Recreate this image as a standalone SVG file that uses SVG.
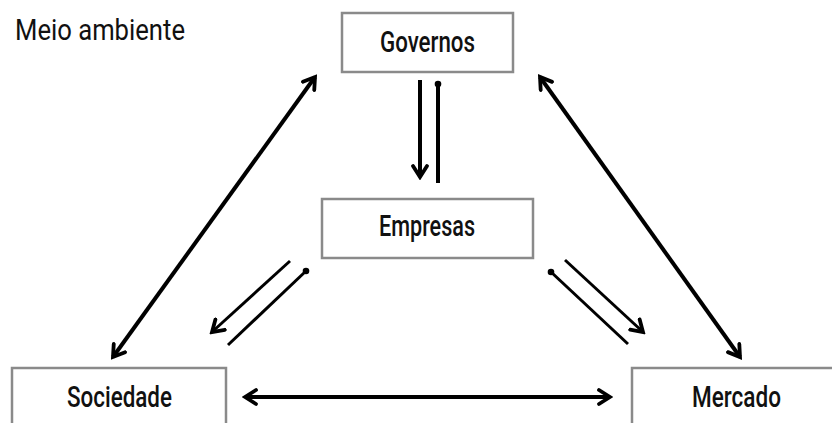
<svg xmlns="http://www.w3.org/2000/svg" width="832" height="423" viewBox="0 0 832 423">
  <style>
    .box { fill: #ffffff; stroke: #8a8a8a; stroke-width: 2.5; }
    .lbl { font-family: Roboto, "Liberation Sans", Arial, sans-serif; font-weight: 500; font-size: 29px; fill: #111111; text-anchor: middle; }
    .title { font-family: Roboto, "Liberation Sans", Arial, sans-serif; font-weight: 400; font-size: 30px; fill: #111111; }
    .thick { stroke: #000000; stroke-width: 4; fill: none; }
    .thin { stroke: #000000; stroke-width: 3; fill: none; }
  </style>
  <defs>
    <marker id="arrow" markerUnits="userSpaceOnUse" viewBox="0 0 16 18" refX="13" refY="9" markerWidth="16" markerHeight="18" orient="auto-start-reverse">
      <path d="M2,2 L13,9 L2,16" fill="none" stroke="#000000" stroke-width="3.8" stroke-linecap="round" stroke-linejoin="miter"/>
    </marker>
    <marker id="dot" markerUnits="userSpaceOnUse" viewBox="0 0 10 10" refX="5" refY="5" markerWidth="10" markerHeight="10">
      <circle cx="5" cy="5" r="3.3" fill="#000000"/>
    </marker>
  </defs>
  <rect width="832" height="423" fill="#ffffff"/>
  <text class="title" x="15" y="40" textLength="170" lengthAdjust="spacingAndGlyphs">Meio ambiente</text>
  <g id="connectors">
    <line class="thick" x1="315" y1="77" x2="113" y2="357" marker-start="url(#arrow)" marker-end="url(#arrow)"/>
    <line class="thick" x1="540" y1="77" x2="740" y2="357" marker-start="url(#arrow)" marker-end="url(#arrow)"/>
    <line class="thick" x1="245" y1="397" x2="610" y2="397" marker-start="url(#arrow)" marker-end="url(#arrow)"/>
    <line class="thick" x1="420" y1="80" x2="420" y2="177" marker-end="url(#arrow)"/>
    <line class="thick" x1="438" y1="183" x2="438" y2="84" marker-end="url(#dot)"/>
    <line class="thin" x1="290" y1="261" x2="212" y2="332" marker-end="url(#arrow)"/>
    <line class="thin" x1="228" y1="345" x2="306" y2="271" marker-end="url(#dot)"/>
    <line class="thin" x1="565" y1="260" x2="643" y2="332" marker-end="url(#arrow)"/>
    <line class="thin" x1="628" y1="344" x2="551" y2="272" marker-end="url(#dot)"/>
  </g>
  <g id="node-governos">
    <rect class="box" x="342" y="13" width="171" height="59"/>
    <text class="lbl" x="427.5" y="52" textLength="95" lengthAdjust="spacingAndGlyphs">Governos</text>
  </g>
  <g id="node-empresas">
    <rect class="box" x="322" y="199" width="211" height="59"/>
    <text class="lbl" x="427" y="236" textLength="96" lengthAdjust="spacingAndGlyphs">Empresas</text>
  </g>
  <g id="node-sociedade">
    <rect class="box" x="12" y="368" width="214" height="70"/>
    <text class="lbl" x="119.5" y="407" textLength="105" lengthAdjust="spacingAndGlyphs">Sociedade</text>
  </g>
  <g id="node-mercado">
    <rect class="box" x="632" y="368" width="220" height="70"/>
    <text class="lbl" x="736.5" y="407" textLength="89" lengthAdjust="spacingAndGlyphs">Mercado</text>
  </g>
</svg>
